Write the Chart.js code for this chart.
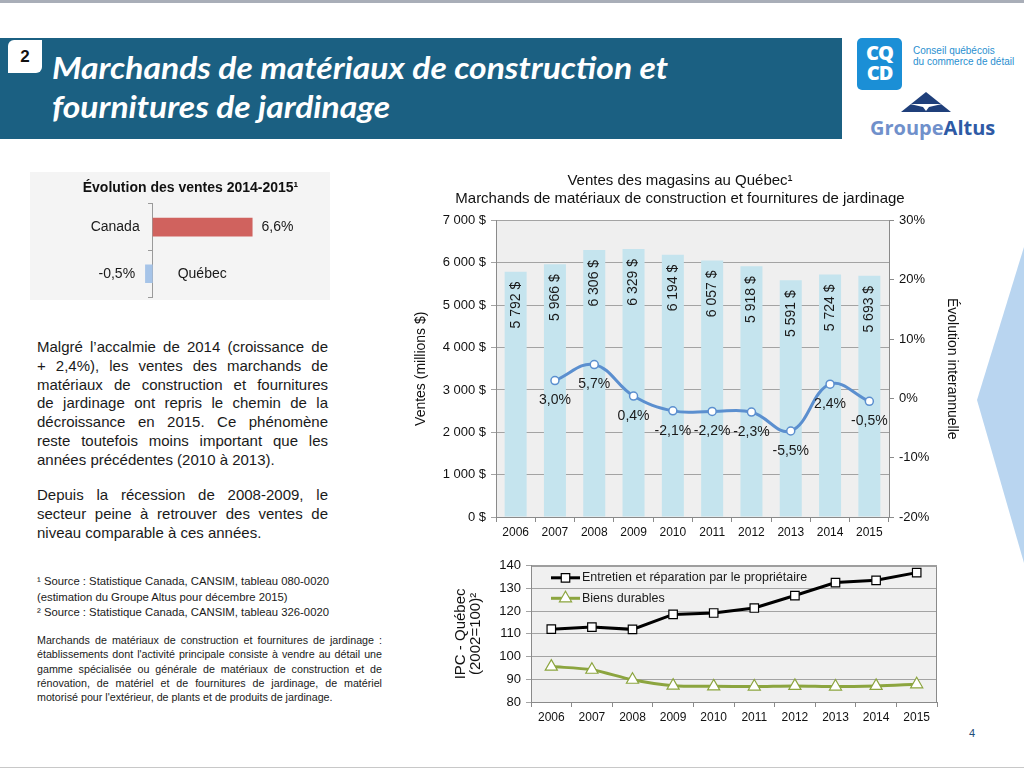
<!DOCTYPE html>
<html lang="fr">
<head>
<meta charset="utf-8">
<title>Marchands de matériaux de construction et fournitures de jardinage</title>
<script src="https://cdn.jsdelivr.net/npm/chart.js@4.4.1/dist/chart.umd.min.js"></script>
<style>
  html, body { margin: 0; padding: 0; }
  body { width: 1024px; height: 770px; position: relative; overflow: hidden; background: #fff;
         font-family: "Liberation Sans", Arial, sans-serif; color: #1a1a1a; }
  .abs { position: absolute; }
  #topline { left: 0; top: 0; width: 1024px; height: 3px; background: #a9aeb8; }
  #bottomline { left: 0; top: 767px; width: 1024px; height: 1px; background: #c8c8c8; }
  #banner { left: 0; top: 38px; width: 842px; height: 101px; background: #1b6082; }
  #tab { left: 8px; top: 2px; width: 34px; height: 33px; background: #fff; border-radius: 6px 0 6px 0;
         font: bold 17px "Liberation Sans", Arial, sans-serif; color: #111; text-align: center; line-height: 33px; }
  .htl { left: 52px; white-space: nowrap; color: #fff; font: italic bold 31px Lato, "Open Sans", sans-serif;
         transform-origin: 0 0; }
  #cqcd { left: 857px; top: 38px; width: 45px; height: 52px; background: #1b8fd6; border-radius: 5px;
          color: #fff; font: 900 20px "Open Sans", sans-serif; text-align: center; line-height: 20px; padding-top: 5px; box-sizing: border-box; letter-spacing: -1px; }
  .cq { font: 10px "Liberation Sans", Arial, sans-serif; color: #2a8fd0; left: 913px; white-space: nowrap; }
  #altus { left: 870px; top: 114px; font: bold 20px "Open Sans", sans-serif; white-space: nowrap; }
  #altus .g { color: #7090cb; }
  #altus .a { color: #2e5aa5; }
  #evolBox { left: 30px; top: 172px; width: 300px; height: 128px; background: #f4f4f4; }
  .para { left: 37px; width: 291px; font-size: 15px; line-height: 18.8px; }
  .para div, .fn div { white-space: nowrap; }
  .para .j, .fn .j { text-align: justify; text-align-last: justify; white-space: normal; }
  .fn { left: 37px; width: 345px; font-size: 10.7px; }
  #pagenum { left: 969px; top: 727px; font-size: 11px; color: #1f4e79; }
</style>
</head>
<body>
<div id="topline" class="abs"></div>
<div id="bottomline" class="abs"></div>

<svg class="abs" style="left:0;top:0" width="1024" height="770">
  <polygon points="1024,247 977,400 1024,563" fill="#b9d5f0"/>
</svg>

<div id="banner" class="abs">
  <div id="tab" class="abs">2</div>
  <div class="abs htl" id="hl1" style="top:10px">Marchands de matériaux de construction et</div>
  <div class="abs htl" id="hl2" style="top:49px">fournitures de jardinage</div>
</div>

<div id="cqcd" class="abs">CQ<br>CD</div>
<div class="abs cq" style="top:45px">Conseil québécois</div>
<div class="abs cq" style="top:56px">du commerce de détail</div>
<svg class="abs" style="left:901px;top:92px" width="50" height="21">
  <polygon points="25,0 0,20 50,20" fill="#1f3f7a"/>
  <polygon points="9,12 41,12 28,15 25,19 22,15" fill="#fff"/>
</svg>
<div id="altus" class="abs"><span class="g">Groupe</span><span class="a">Altus</span></div>

<div id="evolBox" class="abs"><canvas id="evolChart" width="300" height="128"></canvas></div>

<div class="abs para" style="top:338px">
  <div class="j">Malgré l’accalmie de 2014 (croissance de</div>
  <div class="j">+ 2,4%), les ventes des marchands de</div>
  <div class="j">matériaux de construction et fournitures</div>
  <div class="j">de jardinage ont repris le chemin de la</div>
  <div class="j">décroissance en 2015. Ce phénomène</div>
  <div class="j">reste toutefois moins important que les</div>
  <div>années précédentes (2010 à 2013).</div>
</div>
<div class="abs para" style="top:486px">
  <div class="j">Depuis la récession de 2008-2009, le</div>
  <div class="j">secteur peine à retrouver des ventes de</div>
  <div>niveau comparable à ces années.</div>
</div>

<div class="abs fn" style="top:574px;line-height:15.5px;font-size:11.3px">
  <div>¹ Source : Statistique Canada, CANSIM, tableau 080-0020</div>
  <div>(estimation du Groupe Altus pour décembre 2015)</div>
  <div>² Source : Statistique Canada, CANSIM, tableau 326-0020</div>
</div>
<div class="abs fn" style="top:633px;line-height:14.3px">
  <div class="j">Marchands de matériaux de construction et fournitures de jardinage :</div>
  <div class="j">établissements dont l'activité principale consiste à vendre au détail une</div>
  <div class="j">gamme spécialisée ou générale de matériaux de construction et de</div>
  <div class="j">rénovation, de matériel et de fournitures de jardinage, de matériel</div>
  <div>motorisé pour l'extérieur, de plants et de produits de jardinage.</div>
</div>

<canvas id="ventesChart" class="abs" style="left:400px;top:168px" width="564" height="372"></canvas>
<canvas id="ipcChart" class="abs" style="left:440px;top:553px" width="510" height="180"></canvas>

<div id="pagenum" class="abs">4</div>

<script>
// ---- data ----
var years = ['2006', '2007', '2008', '2009', '2010', '2011', '2012', '2013', '2014', '2015'];
var ventes = [5792, 5966, 6306, 6329, 6194, 6057, 5918, 5591, 5724, 5693];
var evolution = [null, 3.0, 5.7, 0.4, -2.1, -2.2, -2.3, -5.5, 2.4, -0.5];
var ipcEntretien = [112.1, 113.0, 112.0, 118.6, 119.2, 121.4, 126.9, 132.6, 133.6, 137.0];
var ipcBiens = [95.6, 94.2, 89.8, 87.2, 86.9, 86.8, 87.1, 86.8, 87.1, 87.8];
var regions = ['Canada', 'Québec'];
var evolution1415 = [6.6, -0.5];

// header title: squeeze the two lines to the width of the original
var hl1 = document.getElementById('hl1'), hl2 = document.getElementById('hl2');
var k = 616 / hl1.scrollWidth;
hl1.style.transform = 'scaleX(' + k + ')';
hl2.style.transform = 'scaleX(' + k + ')';

Chart.defaults.font.family = '"Liberation Sans", Arial, sans-serif';
Chart.defaults.color = '#1a1a1a';
Chart.defaults.animation = false;
Chart.defaults.responsive = false;
Chart.defaults.plugins.legend.display = false;
Chart.defaults.plugins.tooltip.enabled = false;

function fmtMoney(v) {
  return String(v).replace(/\B(?=(\d{3})+(?!\d))/g, ' ') + ' $';
}
function fmtPct(v) {
  return v.toFixed(1).replace('.', ',') + '%';
}

// gray plot background
var plotBg = {
  id: 'plotBg',
  beforeDraw: function (chart, args, opts) {
    var a = chart.chartArea, ctx = chart.ctx;
    ctx.save();
    ctx.fillStyle = opts.color || '#efefef';
    ctx.fillRect(a.left, a.top, a.right - a.left, a.bottom - a.top);
    ctx.restore();
  }
};

// *************************************************************
// small chart : Évolution des ventes 2014-2015
// *************************************************************
var evolLabels = {
  id: 'evolLabels',
  afterDatasetsDraw: function (chart) {
    var ctx = chart.ctx;
    var bars = chart.getDatasetMeta(0).data;
    ctx.save();
    ctx.font = '14px "Liberation Sans", Arial, sans-serif';
    ctx.fillStyle = '#1a1a1a';
    ctx.textBaseline = 'middle';
    bars.forEach(function (bar, i) {
      var v = evolution1415[i];
      if (v >= 0) {
        ctx.textAlign = 'right';
        ctx.fillText(regions[i], bar.base - 13, bar.y);
        ctx.textAlign = 'left';
        ctx.fillText(fmtPct(v), bar.x + 9, bar.y);
      } else {
        ctx.textAlign = 'right';
        ctx.fillText(fmtPct(v), bar.x - 10, bar.y);
        ctx.textAlign = 'left';
        ctx.fillText(regions[i], bar.base + 25, bar.y);
      }
    });
    ctx.restore();
  }
};

new Chart(document.getElementById('evolChart'), {
  type: 'bar',
  data: {
    labels: regions,
    datasets: [{
      data: evolution1415,
      backgroundColor: ['#d0625e', '#a6c4e8'],
      categoryPercentage: 0.4,
      barPercentage: 1
    }]
  },
  options: {
    indexAxis: 'y',
    layout: { padding: { left: 47, right: 26, bottom: 3 } },
    plugins: {
      title: {
        display: true,
        text: 'Évolution des ventes 2014-2015¹',
        font: { size: 14, weight: 'bold' },
        color: '#111',
        padding: { top: 8, bottom: 7 }
      }
    },
    scales: {
      x: { display: false, min: -5, max: 10 },
      y: {
        position: { x: 0 },
        ticks: { display: false },
        grid: { drawOnChartArea: false, tickLength: 4, color: '#9a9a9a', offset: true },
        border: { color: '#9a9a9a' }
      }
    }
  },
  plugins: [evolLabels]
});

// *************************************************************
// main chart : Ventes des magasins au Québec
// *************************************************************
var ventesLabels = {
  id: 'ventesLabels',
  afterDatasetDraw: function (chart, args) {
    var ctx = chart.ctx;
    ctx.save();
    ctx.font = '14px "Liberation Sans", Arial, sans-serif';
    ctx.fillStyle = '#1a1a1a';
    if (args.index === 1) {
      // rotated sales labels inside the bars
      args.meta.data.forEach(function (bar, i) {
        ctx.save();
        ctx.translate(bar.x, bar.y + 10);
        ctx.rotate(-Math.PI / 2);
        ctx.textAlign = 'right';
        ctx.textBaseline = 'middle';
        ctx.fillText(fmtMoney(ventes[i]), 0, 0);
        ctx.restore();
      });
    }
    if (args.index === 0) {
      // growth labels under the points
      ctx.textAlign = 'center';
      ctx.textBaseline = 'middle';
      args.meta.data.forEach(function (pt, i) {
        if (evolution[i] === null) return;
        ctx.fillText(fmtPct(evolution[i]), pt.x, pt.y + 20);
      });
    }
    ctx.restore();
  }
};

new Chart(document.getElementById('ventesChart'), {
  data: {
    labels: years,
    datasets: [
      {
        type: 'line',
        label: 'Évolution interannuelle',
        data: evolution,
        yAxisID: 'y1',
        borderColor: '#5b8fcf',
        borderWidth: 3,
        tension: 0.4,
        pointRadius: 4,
        pointBackgroundColor: '#fff',
        pointBorderColor: '#5b8fcf',
        pointBorderWidth: 1.5,
        order: 0
      },
      {
        type: 'bar',
        label: 'Ventes (millions $)',
        data: ventes,
        yAxisID: 'y',
        backgroundColor: '#c5e4ee',
        categoryPercentage: 0.56,
        barPercentage: 1,
        order: 1
      }
    ]
  },
  options: {
    layout: { padding: { right: 4 } },
    plugins: {
      plotBg: { color: '#efefef' },
      title: {
        display: true,
        text: ['Ventes des magasins au Québec¹', 'Marchands de matériaux de construction et fournitures de jardinage'],
        font: { size: 15, weight: 'normal', lineHeight: 1.25 },
        color: '#111',
        padding: { top: 3, bottom: 12 }
      }
    },
    scales: {
      x: {
        grid: { drawOnChartArea: false, tickLength: 5, color: '#8a8a8a' },
        border: { color: '#8a8a8a' },
        ticks: { font: { size: 12 }, color: '#111', padding: 3, maxRotation: 0 },
        afterFit: function (s) { s.height = 23; }
      },
      y: {
        position: 'left',
        min: 0, max: 7000,
        ticks: { stepSize: 1000, callback: fmtMoney, font: { size: 13 }, color: '#111', padding: 5 },
        grid: { color: '#a3a3a3', tickLength: 5 },
        border: { color: '#8a8a8a' },
        title: { display: true, text: 'Ventes (millions $)', font: { size: 14 }, color: '#111', padding: { top: 13, bottom: 0 } },
        afterFit: function (s) { s.width = 96; }
      },
      y1: {
        position: 'right',
        min: -20, max: 30,
        ticks: { stepSize: 10, callback: function (v) { return v + '%'; }, font: { size: 13 }, color: '#111', padding: 5 },
        grid: { drawOnChartArea: false, tickLength: 5, color: '#8a8a8a' },
        border: { color: '#8a8a8a' },
        title: { display: true, text: 'Évolution interannuelle', font: { size: 14 }, color: '#111', padding: { top: 0, bottom: 0 } },
        afterFit: function (s) { s.width = 71; }
      }
    }
  },
  plugins: [plotBg, ventesLabels]
});

// *************************************************************
// bottom chart : IPC - Québec
// *************************************************************
var ipcFrame = {
  id: 'ipcFrame',
  beforeDatasetsDraw: function (chart) {
    var a = chart.chartArea, ctx = chart.ctx;
    ctx.save();
    ctx.strokeStyle = '#8a8a8a';
    ctx.lineWidth = 1;
    ctx.beginPath();
    ctx.moveTo(a.left, a.top + 0.5);
    ctx.lineTo(a.right - 0.5, a.top + 0.5);
    ctx.lineTo(a.right - 0.5, a.bottom);
    ctx.stroke();
    ctx.restore();
  }
};

var ipcLegend = {
  id: 'ipcLegend',
  afterDraw: function (chart) {
    var a = chart.chartArea, ctx = chart.ctx;
    ctx.save();
    chart.data.datasets.forEach(function (ds, i) {
      var y = a.top + 12 + i * 20.5;
      var x0 = a.left + 20, x1 = a.left + 49;
      ctx.strokeStyle = ds.borderColor;
      ctx.lineWidth = ds.borderWidth;
      ctx.beginPath();
      ctx.moveTo(x0, y);
      ctx.lineTo(x1, y);
      ctx.stroke();
      ctx.fillStyle = '#fff';
      ctx.strokeStyle = ds.pointBorderColor;
      ctx.lineWidth = ds.pointBorderWidth;
      Chart.helpers.drawPoint(ctx, { pointStyle: ds.pointStyle, radius: ds.pointRadius, borderWidth: ds.pointBorderWidth, rotation: 0 }, (x0 + x1) / 2, y);
      ctx.fillStyle = '#1a1a1a';
      ctx.font = '12.5px "Liberation Sans", Arial, sans-serif';
      ctx.textAlign = 'left';
      ctx.textBaseline = 'middle';
      ctx.fillText(ds.label, x1 + 2, y);
    });
    ctx.restore();
  }
};

new Chart(document.getElementById('ipcChart'), {
  type: 'line',
  data: {
    labels: years,
    datasets: [
      {
        label: 'Entretien et réparation par le propriétaire',
        data: ipcEntretien,
        borderColor: '#000',
        borderWidth: 3,
        tension: 0,
        pointStyle: 'rect',
        pointRadius: 6,
        pointBackgroundColor: '#fff',
        pointBorderColor: '#000',
        pointBorderWidth: 1.2
      },
      {
        label: 'Biens durables',
        data: ipcBiens,
        borderColor: '#8ca53f',
        borderWidth: 3,
        tension: 0.3,
        pointStyle: 'triangle',
        pointRadius: 7,
        pointBackgroundColor: '#fff',
        pointBorderColor: '#8ca53f',
        pointBorderWidth: 1.2
      }
    ]
  },
  options: {
    layout: { padding: { top: 10, right: 13 } },
    plugins: { plotBg: { color: '#f0f0f0' } },
    scales: {
      x: {
        offset: true,
        grid: { offset: true, drawOnChartArea: false, tickLength: 5, color: '#8a8a8a' },
        border: { color: '#8a8a8a' },
        ticks: { font: { size: 12 }, color: '#111', padding: 3, maxRotation: 0 },
        afterFit: function (s) { s.height = 31; }
      },
      y: {
        min: 80, max: 140,
        ticks: { stepSize: 10, font: { size: 13 }, color: '#111', padding: 5 },
        grid: { color: '#a3a3a3', tickLength: 5 },
        border: { color: '#8a8a8a' },
        title: { display: true, text: ['IPC - Québec', '(2002=100)²'], font: { size: 15, lineHeight: 1.0 }, color: '#111', padding: { top: 13, bottom: 0 } },
        afterFit: function (s) { s.width = 91; }
      }
    }
  },
  plugins: [plotBg, ipcFrame, ipcLegend]
});
</script>
</body>
</html>
